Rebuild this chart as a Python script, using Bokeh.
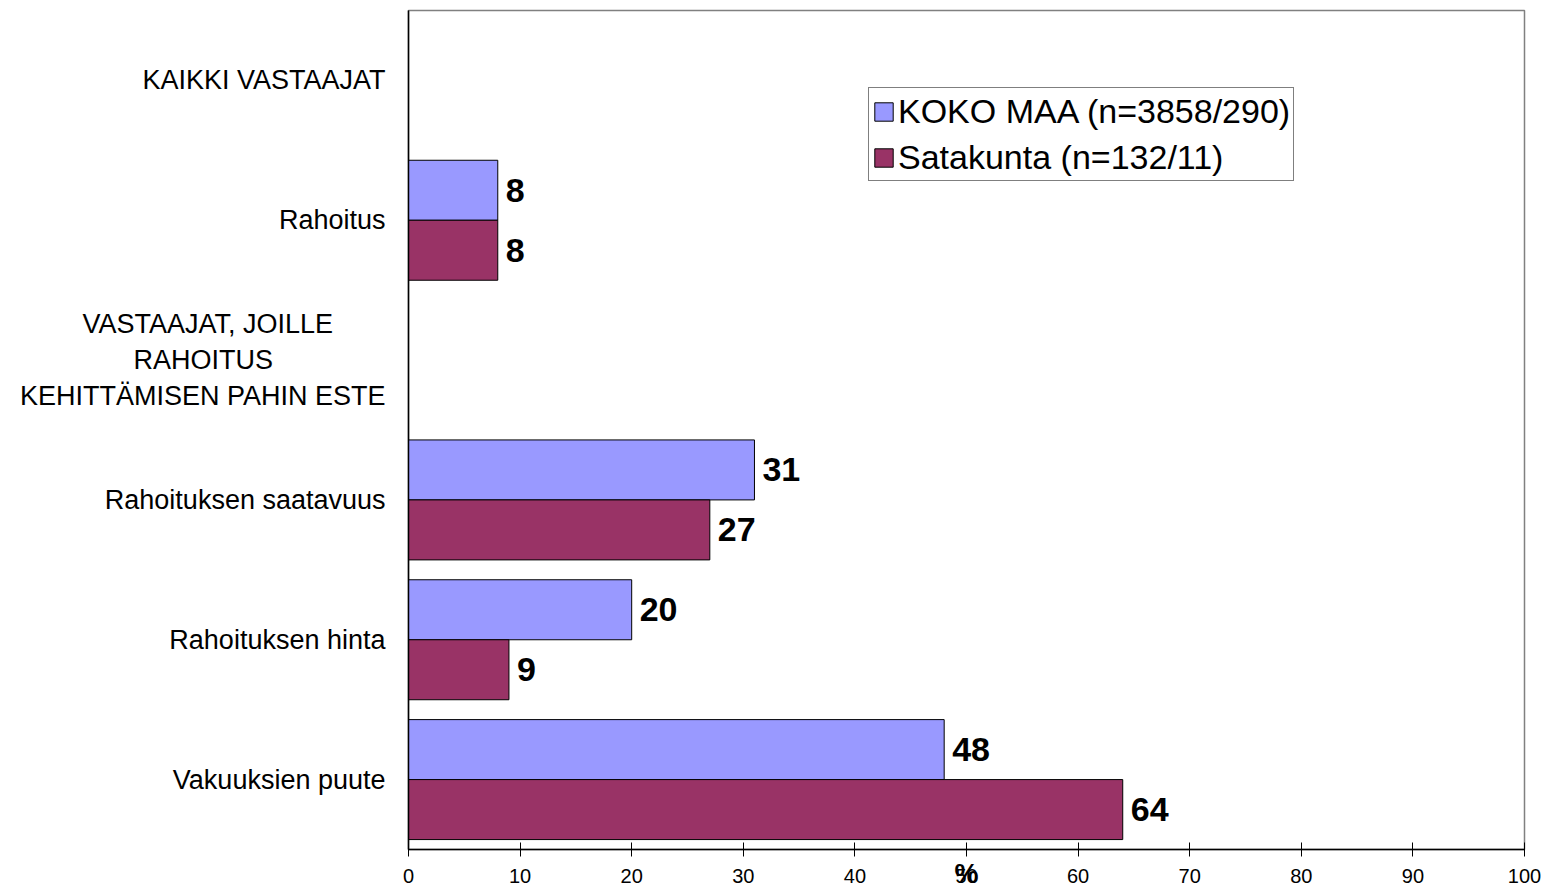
from bokeh.plotting import figure
from bokeh.models import (ColumnDataSource, FactorRange, Range1d, FixedTicker,
                          Legend, LegendItem)
from bokeh.transform import dodge
from bokeh.core.properties import value
from bokeh.embed import file_html
from bokeh.resources import INLINE

# ---- data ----
categories = [
    "KAIKKI VASTAAJAT",
    "Rahoitus",
    "VASTAAJAT, JOILLE\nRAHOITUS\nKEHITTÄMISEN PAHIN ESTE",
    "Rahoituksen saatavuus",
    "Rahoituksen hinta",
    "Vakuuksien puute",
]
bar_categories = ["Rahoitus", "Rahoituksen saatavuus", "Rahoituksen hinta", "Vakuuksien puute"]
koko_maa = [8, 31, 20, 48]
satakunta = [8, 27, 9, 64]
series_names = ["KOKO MAA (n=3858/290)", "Satakunta (n=132/11)"]
x_ticks = list(range(0, 101, 10))
x_axis_title = "%"

FONT = "Liberation Sans"
C1 = "#9999FF"
C2 = "#993366"

# The multi-line group header: lines are centred on each other in the original;
# the axis right-aligns lines, so shorter lines get trailing no-break spaces.
NB = "\u00a0"
_pad = [7, 15, 0]
def display(cat):
    if "\n" not in cat:
        return cat
    return "\n".join(line + NB * n for line, n in zip(cat.split("\n"), _pad))

src = ColumnDataSource(dict(cat=[display(c) for c in bar_categories], a=koko_maa, b=satakunta,
                            a_txt=[str(v) for v in koko_maa],
                            b_txt=[str(v) for v in satakunta]))

y_factors = [display(c) for c in reversed(categories)]
y_range = FactorRange(factors=y_factors, range_padding=0)

p = figure(width=1548, height=892, x_range=Range1d(0, 100), y_range=y_range,
           output_backend="svg", toolbar_location=None,
           min_border_left=408, min_border_right=24, min_border_top=10, min_border_bottom=43)

p.background_fill_color = "white"
p.border_fill_color = "white"
p.outline_line_color = "#808080"
p.outline_line_width = 1.5
p.xgrid.visible = False
p.ygrid.visible = False

off = 0.2145
h = 0.429
r1 = p.hbar(y=dodge("cat", off, range=y_range), right="a", left=0, height=h, source=src,
            fill_color=C1, line_color="black", line_width=1)
r2 = p.hbar(y=dodge("cat", -off, range=y_range), right="b", left=0, height=h, source=src,
            fill_color=C2, line_color="black", line_width=1)

for col, txt, o in (("a", "a_txt", off), ("b", "b_txt", -off)):
    p.text(x=col, y=dodge("cat", o, range=y_range), text=txt, source=src,
           x_offset=8, text_baseline="middle", text_align="left",
           text_font=value(FONT), text_font_style="bold", text_font_size="34px",
           text_color="black")

# x axis
xa = p.xaxis[0]
xa.ticker = FixedTicker(ticks=x_ticks)
xa.minor_tick_line_color = None
xa.major_tick_in = 7
xa.major_tick_out = 7
xa.axis_line_color = "black"
xa.axis_line_width = 1.5
xa.major_tick_line_color = "black"
xa.major_label_text_font = FONT
xa.major_label_text_font_size = "20px"
xa.major_label_text_color = "black"
xa.major_label_standoff = 12
xa.axis_label = x_axis_title
xa.axis_label_text_font = FONT
xa.axis_label_text_font_style = "bold"
xa.axis_label_text_font_size = "27px"
xa.axis_label_text_color = "black"
xa.axis_label_standoff = -27

# y axis
ya = p.yaxis[0]
ya.major_tick_in = 0
ya.major_tick_out = 0
ya.minor_tick_line_color = None
ya.axis_line_color = "black"
ya.axis_line_width = 1.5
ya.major_label_text_font = FONT
ya.major_label_text_font_size = "27px"
ya.major_label_text_color = "black"
ya.major_label_standoff = 23

legend = Legend(items=[LegendItem(label=series_names[0], renderers=[r1]),
                       LegendItem(label=series_names[1], renderers=[r2])],
                location=(460, 668))
legend.label_text_font = FONT
legend.label_text_font_size = "34px"
legend.label_text_color = "black"
legend.glyph_width = 23
legend.glyph_height = 23
legend.label_standoff = 3
legend.label_height = 40
legend.padding = 3
legend.spacing = 6
legend.margin = 0
legend.border_line_color = "black"
legend.border_line_width = 1
legend.background_fill_color = "white"
legend.background_fill_alpha = 1
p.add_layout(legend, "center")

open("out.html", "w").write(file_html(p, INLINE))
